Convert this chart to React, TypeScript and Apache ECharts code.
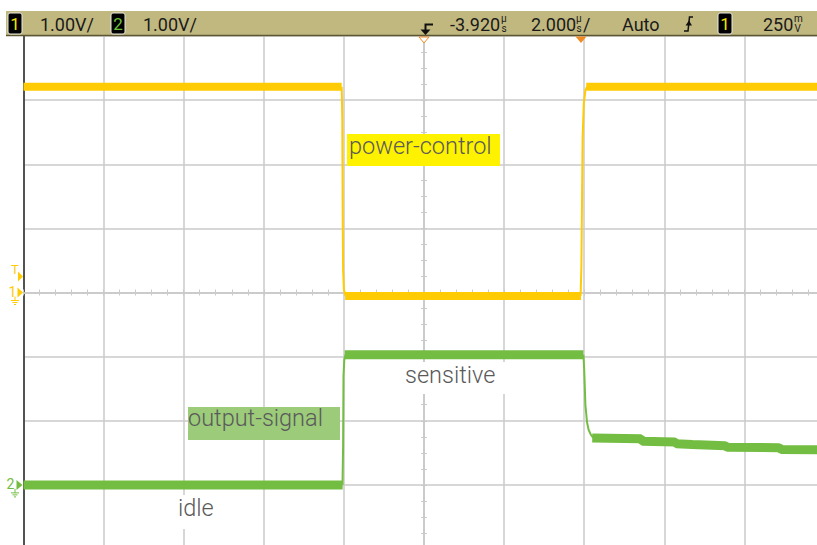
import React, { useEffect, useRef } from 'react';
import * as echarts from 'echarts';

// ---- Scope settings ----
const T_LEFT = -13.92; // µs at left screen edge (delay -3.920 µs, 2 µs/div, 10 div)
const T_RIGHT = 6.08;
const DELAY = -3.92;
const TRIGGER_TIME = 0;
const TRIGGER_LEVEL = 0.25; // V (250 mV)
const CH1_RANGE = [-4, 4]; // V, 1 V/div, ground at centre
const CH2_RANGE = [-1, 7]; // V, 1 V/div, ground 3 div below centre

// ---- Channel 1 (power-control) [µs, V] ----
const ch1HighBefore = [[-13.92, 3.21], [-5.975, 3.21]];
const ch1FallEdge = [[-5.975, 3.21], [-5.96, 2.7], [-5.95, 1.2], [-5.94, 0.35], [-5.92, 0.05], [-5.89, -0.03], [-5.86, -0.055]];
const ch1Low = [[-5.89, -0.055], [0.0, -0.055]];
const ch1RiseEdge = [[-0.01, -0.055], [0.01, 0.4], [0.04, 2.4], [0.07, 2.95], [0.11, 3.15], [0.15, 3.21]];
const ch1HighAfter = [[0.13, 3.21], [6.08, 3.21]];

// ---- Channel 2 (output-signal) [µs, V] ----
const ch2LowBefore = [[-13.92, 0.0], [-5.95, 0.0]];
const ch2RiseEdge = [[-5.955, 0.0], [-5.94, 0.6], [-5.93, 1.7], [-5.91, 1.95], [-5.88, 2.03]];
const ch2High = [[-5.9, 2.03], [0.06, 2.03]];
const ch2FallEdge = [[0.06, 2.03], [0.08, 1.8], [0.11, 1.25], [0.15, 0.98], [0.19, 0.86], [0.24, 0.79], [0.3, 0.735]];
const ch2Tail = [[0.28, 0.73], [1.5, 0.72], [1.53, 0.68], [2.35, 0.67], [2.38, 0.64], [2.78, 0.63], [3.6, 0.61], [3.65, 0.585], [4.95, 0.58], [5.0, 0.55], [6.08, 0.545]];

// ---- Header texts ----
const headerLeft = ['1.00V/', '1.00V/'];
const delayText = '-3.920';
const timebaseText = '2.000';
const modeText = 'Auto';
const trigLevelText = '250';

const YELLOW = '#FFCB05';
const GREEN = '#74BD43';
const GRID = '#CACACA';
const ORANGE = '#F28A22';
const KHAKI = '#C1B880';
const LABEL = '#5A5A5A';

const thick = (data: number[][], color: string, w: number, yIdx: number) => ({
  type: 'line', data, xAxisIndex: 1, yAxisIndex: yIdx, symbol: 'none', silent: true,
  lineStyle: { color, width: w, cap: 'butt' }, z: 3,
});
const thin = (data: number[][], color: string, yIdx: number) => ({
  type: 'line', data, xAxisIndex: 1, yAxisIndex: yIdx, symbol: 'none', silent: true, smooth: false,
  lineStyle: { color, width: 2 }, z: 4,
});

const tickAxisX = (inside: boolean) => ({
  type: 'value', min: -5, max: 5, interval: 0.2, position: 'bottom', gridIndex: 0,
  axisLine: { show: true, onZero: true, onZeroAxisIndex: 0, lineStyle: { color: GRID, width: 1.5 } },
  axisTick: { show: true, inside, length: 3, lineStyle: { color: GRID, width: 1 } },
  axisLabel: { show: false }, splitLine: { show: false },
});
const tickAxisY = (inside: boolean) => ({
  type: 'value', min: -4, max: 4, interval: 0.25, position: 'left', gridIndex: 0,
  axisLine: { show: true, onZero: true, onZeroAxisIndex: 0, lineStyle: { color: GRID, width: 1.5 } },
  axisTick: { show: true, inside, length: 3, lineStyle: { color: GRID, width: 1 } },
  axisLabel: { show: false }, splitLine: { show: false },
});

const txt = (text: string, x: number, y: number, fill: string, size: number, extra: any = {}, weight = 400) => ({
  type: 'text', x, y, z: 20,
  style: {
    text, fill, font: `${weight} ${size}px Roboto, "Noto Sans", sans-serif`,
    align: 'left', verticalAlign: 'middle', textAlign: 'left', textVerticalAlign: 'middle', ...extra,
  },
});

export default function App() {
  const ref = useRef<HTMLDivElement>(null);
  useEffect(() => {
    if (!ref.current) return;
    const chart = echarts.init(ref.current, undefined, { renderer: 'svg' });
    chart.setOption({
      animation: false,
      backgroundColor: '#ffffff',
      grid: { left: 23.5, top: 36, width: 801, height: 513, show: false, containLabel: false, outerBoundsMode: 'none' },
      xAxis: [
        {
          type: 'value', min: -5, max: 5, interval: 1,
          axisLine: { show: false }, axisTick: { show: false }, axisLabel: { show: false },
          splitLine: { show: true, lineStyle: { color: GRID, width: 1.5 } },
        },
        { type: 'value', min: T_LEFT, max: T_RIGHT, show: false },
        tickAxisX(false),
        tickAxisX(true),
      ],
      yAxis: [
        {
          type: 'value', min: -4, max: 4, interval: 1, position: 'left',
          axisLine: { show: true, onZero: false, lineStyle: { color: '#262626', width: 1.5 } },
          axisTick: { show: false }, axisLabel: { show: false },
          splitLine: { show: true, lineStyle: { color: GRID, width: 1.5 } },
        },
        { type: 'value', min: CH1_RANGE[0], max: CH1_RANGE[1], show: false },
        { type: 'value', min: CH2_RANGE[0], max: CH2_RANGE[1], show: false },
        tickAxisY(false),
        tickAxisY(true),
      ],
      series: [
        thick(ch1HighBefore, YELLOW, 8, 1),
        thin(ch1FallEdge, YELLOW, 1),
        thick(ch1Low, YELLOW, 8, 1),
        thin(ch1RiseEdge, YELLOW, 1),
        thick(ch1HighAfter, YELLOW, 8, 1),
        thick(ch2LowBefore, GREEN, 9, 2),
        thin(ch2RiseEdge, GREEN, 2),
        thick(ch2High, GREEN, 9, 2),
        thin(ch2FallEdge, GREEN, 2),
        thick(ch2Tail, GREEN, 9, 2),
      ],
    });

    const px = (v: number) => chart.convertToPixel({ xAxisIndex: 1 }, v) as unknown as number;
    const py1 = (v: number) => chart.convertToPixel({ yAxisIndex: 1 }, v) as unknown as number;
    const py2 = (v: number) => chart.convertToPixel({ yAxisIndex: 2 }, v) as unknown as number;
    const xDelay = px(DELAY);
    const xTrig = px(TRIGGER_TIME);
    const yTrig = py1(TRIGGER_LEVEL);
    const yG1 = py1(0);
    const yG2 = py2(0);

    const ground = (x: number, y: number, c: string) => [
      { type: 'line', z: 20, shape: { x1: x, y1: y, x2: x, y2: y + 4 }, style: { stroke: c, lineWidth: 1 } },
      { type: 'line', z: 20, shape: { x1: x - 4, y1: y + 4, x2: x + 4, y2: y + 4 }, style: { stroke: c, lineWidth: 1 } },
      { type: 'line', z: 20, shape: { x1: x - 2.5, y1: y + 6, x2: x + 2.5, y2: y + 6 }, style: { stroke: c, lineWidth: 1 } },
      { type: 'line', z: 20, shape: { x1: x - 1, y1: y + 8, x2: x + 1, y2: y + 8 }, style: { stroke: c, lineWidth: 1 } },
    ];
    const box = (x: number, label: string, color: string) => [
      { type: 'rect', z: 20, shape: { x, y: 13, width: 14, height: 21, r: 2 }, style: { fill: '#000', stroke: '#E8E8E0', lineWidth: 1 } },
      txt(label, x + 7, 24, color, 17, { align: 'center', textAlign: 'center' }),
    ];
    const stacked = (x: number, a: string, b: string) => [
      txt(a, x, 18.5, '#1a1a1a', 10),
      txt(b, x + 0.5, 28, '#1a1a1a', 10),
    ];

    const elements: any[] = [
      // header bar
      { type: 'rect', z: 15, shape: { x: 6, y: 11, width: 811, height: 25 }, style: { fill: KHAKI } },
      { type: 'rect', z: 16, shape: { x: 6, y: 34.8, width: 811, height: 1.5 }, style: { fill: '#5C5633' } },
      ...box(8, '1', '#F4E600'),
      txt(headerLeft[0], 40, 24, '#1a1a1a', 18),
      ...box(111, '2', '#6CC13B'),
      txt(headerLeft[1], 143, 24, '#1a1a1a', 18),
      // trigger-position symbol
      { type: 'polyline', z: 20, shape: { points: [[433, 24.5], [425.5, 24.5], [425.5, 31]] }, style: { stroke: '#111', lineWidth: 2, fill: null } },
      { type: 'polygon', z: 20, shape: { points: [[420.5, 29.5], [430.5, 29.5], [425.5, 35]] }, style: { fill: '#111' } },
      txt(delayText, 450, 24, '#1a1a1a', 18),
      ...stacked(501, 'µ', 's'),
      txt(timebaseText, 531, 24, '#1a1a1a', 18),
      ...stacked(576, 'µ', 's'),
      txt('/', 583, 24, '#1a1a1a', 18),
      txt(modeText, 622, 24, '#1a1a1a', 18),
      // rising-edge symbol
      { type: 'polyline', z: 20, shape: { points: [[684, 31], [688, 31], [689.5, 17], [693, 17]] }, style: { stroke: '#111', lineWidth: 1.5, fill: null } },
      { type: 'polygon', z: 20, shape: { points: [[685.5, 25.5], [689, 20.5], [692, 25.5]] }, style: { fill: '#111' } },
      ...box(718, '1', '#F4E600'),
      txt(trigLevelText, 763, 24, '#1a1a1a', 18),
      ...stacked(794, 'm', 'V'),
      // top markers: delay centre and trigger time
      { type: 'polygon', z: 20, shape: { points: [[xDelay - 5, 37], [xDelay + 5, 37], [xDelay, 43]] }, style: { fill: '#fff', stroke: ORANGE, lineWidth: 1 } },
      { type: 'polygon', z: 20, shape: { points: [[xTrig - 5.5, 36.5], [xTrig + 5.5, 36.5], [xTrig, 43]] }, style: { fill: ORANGE } },
      // left markers
      txt('T', 11, yTrig - 7, YELLOW, 13),
      { type: 'polygon', z: 20, shape: { points: [[18, yTrig - 5], [23, yTrig], [18, yTrig + 5]] }, style: { fill: YELLOW } },
      txt('1', 8.5, yG1 - 0.5, YELLOW, 14),
      { type: 'polygon', z: 20, shape: { points: [[17.5, yG1 - 5], [23, yG1], [17.5, yG1 + 5]] }, style: { fill: YELLOW } },
      ...ground(15, yG1 + 4, YELLOW),
      txt('2', 6.5, yG2 - 0.5, GREEN, 14),
      { type: 'polygon', z: 20, shape: { points: [[16.5, yG2 - 5], [22.5, yG2], [16.5, yG2 + 5]] }, style: { fill: GREEN } },
      ...ground(15, yG2 + 4, GREEN),
      // annotations
      { type: 'rect', z: 18, shape: { x: 347, y: 134, width: 153, height: 32 }, style: { fill: '#FFF200' } },
      txt('power-control', 349, 146, LABEL, 23.5, {}, 300),
      { type: 'rect', z: 18, shape: { x: 398, y: 362, width: 108, height: 32 }, style: { fill: '#ffffff' } },
      txt('sensitive', 405, 375, LABEL, 23.5, {}, 300),
      { type: 'rect', z: 18, shape: { x: 188, y: 407, width: 152, height: 33 }, style: { fill: '#9CCB7A' } },
      txt('output-signal', 188, 418, LABEL, 23.5, {}, 300),
      { type: 'rect', z: 18, shape: { x: 170, y: 495, width: 52, height: 34 }, style: { fill: '#ffffff' } },
      txt('idle', 178, 508, LABEL, 23.5, {}, 300),
    ];
    chart.setOption({ graphic: { elements } });
    return () => chart.dispose();
  }, []);
  return <div ref={ref} style={{ position: 'fixed', left: 0, top: 0, width: 817, height: 545, background: '#fff' }} />;
}
